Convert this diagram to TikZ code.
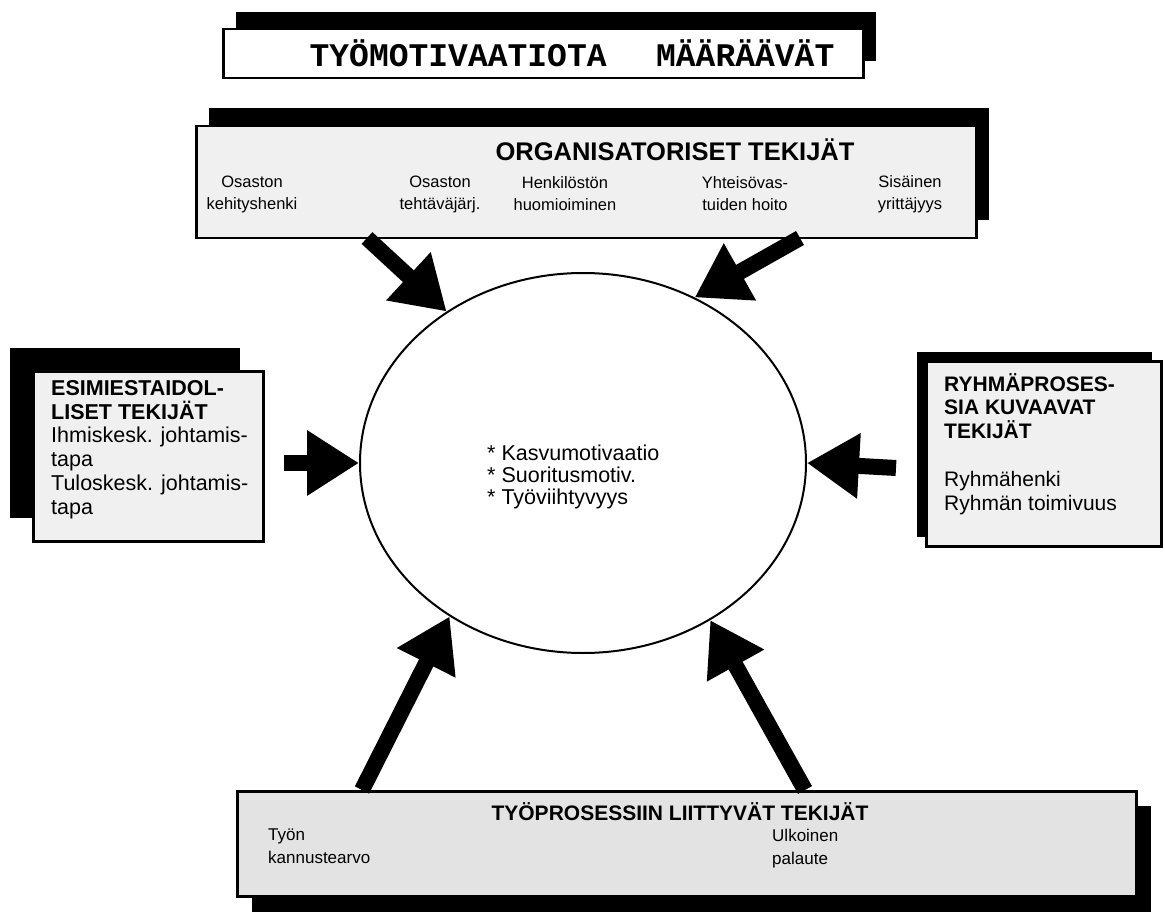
\documentclass[tikz,border=0pt]{standalone}
\usepackage{fontspec}
\setmainfont{Liberation Sans}
\newfontfamily\typefont{Liberation Mono}
\usetikzlibrary{arrows.meta,shapes.geometric}
\newcommand\setfs[2]{\fontsize{#1}{#2}\selectfont}

\begin{document}
\begin{tikzpicture}[x=1pt,y=-1pt,
  shadowfill/.style={fill=black,draw=none},
  panel/.style={draw=black,line width=2.5pt,fill=black!6,anchor=north west,inner sep=0pt},
  whitepanel/.style={panel,fill=white},
  greypanel/.style={panel,fill=black!11},
  colitem/.style={align=center,font=\setfs{16.5}{22},inner sep=0pt},
  sideitem/.style={align=left,font=\setfs{21.5}{23.8},inner sep=0pt,anchor=north west},
  bigarrow/.style={line width=16pt,-{Triangle[length=52pt,width=62pt]}}
]
\useasboundingbox (0,0) rectangle (1165,912);

% heading box with its offset shadow
\fill[shadowfill] (236,12) rectangle (876,61);
\node[whitepanel,minimum width=640pt,minimum height=49pt] (title) at (222,28) {};
\node[font=\typefont\bfseries\setfs{33}{35},inner sep=0pt] (titletext) at (572,53)
  {TYÖMOTIVAATIOTA\hspace{1.5em}MÄÄRÄÄVÄT};

% organisational factors
\fill[shadowfill] (209,108) rectangle (989,220);
\node[panel,minimum width=780pt,minimum height=112pt] (org) at (195,125) {};
\node[font=\bfseries\setfs{25.5}{28},inner sep=0pt] (orghead) at (675,150) {ORGANISATORISET TEKIJÄT};
\node[colitem] (o1) at (252,194) {Osaston\\kehityshenki};
\node[colitem] (o2) at (440,194) {Osaston\\tehtäväjärj.};
\node[colitem] (o3) at (565,194) {Henkilöstön\\huomioiminen};
\node[colitem] (o4) at (745,194) {Yhteisövas-\\tuiden hoito};
\node[colitem] (o5) at (910,194) {Sisäinen\\yrittäjyys};

% leadership factors
\fill[shadowfill] (10,348) rectangle (240,518);
\node[panel,minimum width=230pt,minimum height=170pt] (lead) at (32,370) {};
\node[sideitem] (leadtext) at (51,380)
  {\textbf{ESIMIESTAIDOL-}\\\textbf{LISET TEKIJÄT}\\Ihmiskesk. johtamis-\\tapa\\Tuloskesk. johtamis-\\tapa};

% group process factors
\fill[shadowfill] (917,352) rectangle (1152,537);
\node[panel,minimum width=235pt,minimum height=185pt] (group) at (925,360) {};
\node[sideitem,font=\setfs{21}{23.6}] (grouptext) at (944,373)
  {\textbf{RYHMÄPROSES-}\\\textbf{SIA KUVAAVAT}\\\textbf{TEKIJÄT}\\[25pt]Ryhmähenki\\Ryhmän toimivuus};

% work process factors
\fill[shadowfill] (252,806) rectangle (1151,912);
\node[greypanel,minimum width=899pt,minimum height=105pt] (work) at (236,790) {};
\node[font=\bfseries\setfs{21}{24},inner sep=0pt] (workhead) at (680,812) {TYÖPROSESSIIN LIITTYVÄT TEKIJÄT};
\node[sideitem,font=\setfs{17}{23}] (w1) at (268,829) {Työn\\kannustearvo};
\node[sideitem,font=\setfs{17}{23}] (w2) at (772,829) {Ulkoinen\\palaute};

% central motivation ellipse
\node[draw=black,line width=2pt,ellipse,minimum width=446pt,minimum height=380pt,inner sep=0pt] (core) at (583,463) {};
\node[align=left,font=\setfs{21.5}{22},inner sep=0pt,anchor=north west] (coretext) at (487,445)
  {* Kasvumotivaatio\\* Suoritusmotiv.\\* Työviihtyvyys};

% arrow tails on the panel edges
\coordinate (ta) at (367,238);
\coordinate (tb) at (800,238);
\coordinate (tc) at (284,463);
\coordinate (td) at (896,468);
\coordinate (te) at (362,790);
\coordinate (tf) at (805,790);

\draw[bigarrow] (ta) -- (core.132);
\draw[bigarrow] (tb) -- (core.56);
\draw[bigarrow] (tc) -- (core.west);
\draw[bigarrow] (td) -- (core.east);
\draw[bigarrow] (te) -- (core.229);
\draw[bigarrow] (tf) -- (core.309);
\end{tikzpicture}
\end{document}
